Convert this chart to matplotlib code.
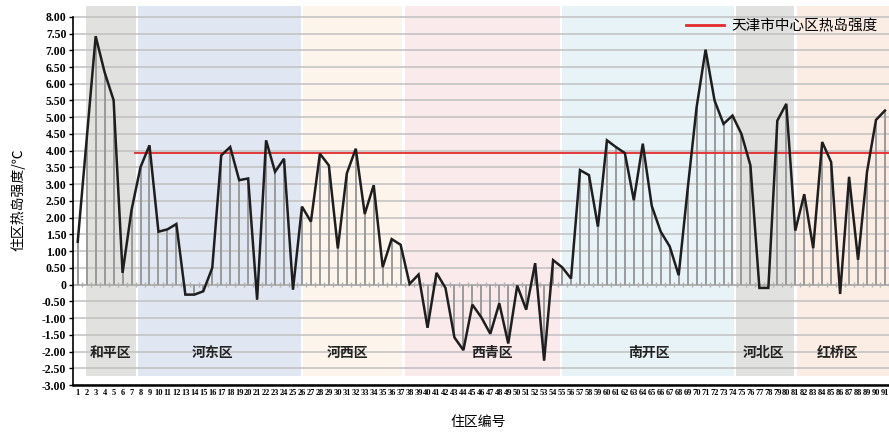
import matplotlib
matplotlib.use("Agg")
import matplotlib.pyplot as plt
from matplotlib.lines import Line2D
import numpy as np

plt.rcParams['font.family'] = ['Liberation Serif', 'Noto Sans CJK SC', 'DejaVu Sans']

# ---- data ----
site_ids = list(range(1, 92))
heat_island = [
    1.28, 4.35, 7.42, 6.34, 5.51, 0.35, 2.23, 3.51, 4.16, 1.58,
    1.65, 1.81, -0.30, -0.30, -0.20, 0.50, 3.86, 4.11, 3.12, 3.17,
    -0.45, 4.31, 3.37, 3.76, -0.15, 2.33, 1.88, 3.91, 3.56, 1.08,
    3.32, 4.06, 2.11, 2.97, 0.52, 1.36, 1.19, 0.02, 0.30, -1.29,
    0.35, -0.10, -1.58, -1.96, -0.60, -0.98, -1.47, -0.56, -1.76, -0.03,
    -0.75, 0.64, -2.27, 0.73, 0.52, 0.18, 3.42, 3.27, 1.73, 4.31,
    4.11, 3.93, 2.52, 4.21, 2.35, 1.58, 1.14, 0.28, 2.85, 5.30,
    7.02, 5.50, 4.80, 5.05, 4.50, 3.56, -0.10, -0.10, 4.90, 5.40,
    1.61, 2.70, 1.09, 4.26, 3.66, -0.28, 3.22, 0.74, 3.37, 4.92,
    5.20,
]
city_mean = 3.93
city_label = "天津市中心区热岛强度"

districts = ["和平区", "河东区", "河西区", "西青区", "南开区", "河北区", "红桥区"]
district_start = [1.93, 7.77, 26.08, 37.5, 55.0, 74.35, 81.15]
district_end = [7.47, 25.86, 37.1, 54.77, 74.2, 80.85, 91.6]
district_label_x = [4.66, 16.03, 31.13, 47.24, 64.69, 77.45, 85.76]
district_colors = ["#e1e1df", "#e0e7f3", "#fdf4eb", "#faeaeb", "#e8f3f8", "#e1e1df", "#fcede4"]

y_ticks = [-3.0 + 0.5 * k for k in range(23)]

# ---- figure ----
W, H = 889, 434
fig = plt.figure(figsize=(W / 100, H / 100), dpi=100)
left_px, right_px, top_px, bottom_px = 72.7, 889, 5.1, 385
ax = fig.add_axes([left_px / W, 1 - bottom_px / H,
                   (right_px - left_px) / W, (bottom_px - top_px) / H])
ax.set_xlim(0.44, 91.45)
ax.set_ylim(-3.0, 8.35)

# district bands
for s, e, c in zip(district_start, district_end, district_colors):
    ax.fill_between([s, e], -2.72, 8.33, color=c, lw=0, zorder=0)
for name, xl in zip(districts, district_label_x):
    ax.text(xl, -2.05, name, ha='center', va='center', fontsize=10,
            family=['Noto Sans CJK SC'], fontweight='bold', color='#222222', zorder=5)

# grid
for yv in y_ticks:
    if yv == 0:
        continue
    ax.axhline(yv, color='#c0c0c0', lw=1.1, zorder=1)

# zero axis with small tick marks
ax.axhline(0, color='#b0b0b0', lw=1.4, zorder=2)
x = np.array(site_ids)
ax.vlines(np.concatenate([x - 0.5, [x[-1] + 0.5]]), -0.08, 0.08, color='#b0b0b0', lw=1.0, zorder=2)

# drop lines
ax.vlines(x, 0, heat_island, color='#9a9a9a', lw=1.4, zorder=3)

# mean line
ax.hlines(city_mean, 7.3, 91.45, color='#e42a2c', lw=1.3, zorder=4)

# main line
ax.plot(x, heat_island, color='#1e1e1e', lw=1.8, zorder=6, solid_joinstyle='miter')

# axes styling
for sp in ['top', 'right']:
    ax.spines[sp].set_visible(False)
ax.spines['left'].set_bounds(-3.0, 8.0)
ax.spines['left'].set_linewidth(1.2)
ax.spines['bottom'].set_linewidth(1.8)
ax.spines['left'].set_zorder(7)
ax.spines['bottom'].set_zorder(7)

ax.set_yticks(y_ticks)
ax.set_yticklabels(['0' if v == 0 else f'{v:.2f}' for v in y_ticks], fontweight='bold')
ax.tick_params(axis='y', length=3, width=1, pad=1.5, labelsize=8.5, direction='out')
ax.set_xticks(site_ids)
ax.set_xticklabels([str(i) for i in site_ids], fontweight='bold')
ax.tick_params(axis='x', length=0, pad=3, labelsize=6.0)

# legend
handle = Line2D([0], [0], color='#e42a2c', lw=2)
leg = ax.legend([handle], [city_label], loc='center right', bbox_to_anchor=(0.997, 0.945),
                frameon=False, handlelength=2.6, handletextpad=0.5, borderpad=0.1,
                prop={'family': ['Noto Sans CJK SC'], 'size': 10.5})
leg.set_zorder(8)

fig.text(18 / W, 1 - 200 / H, "住区热岛强度/℃", rotation=90, ha='center', va='center',
         fontsize=10, family=['Noto Sans CJK SC', 'DejaVu Sans'])
fig.text(478 / W, 1 - 422 / H, "住区编号", ha='center', va='center',
         fontsize=10, family=['Noto Sans CJK SC'])

fig.savefig("out.png", dpi=100)
